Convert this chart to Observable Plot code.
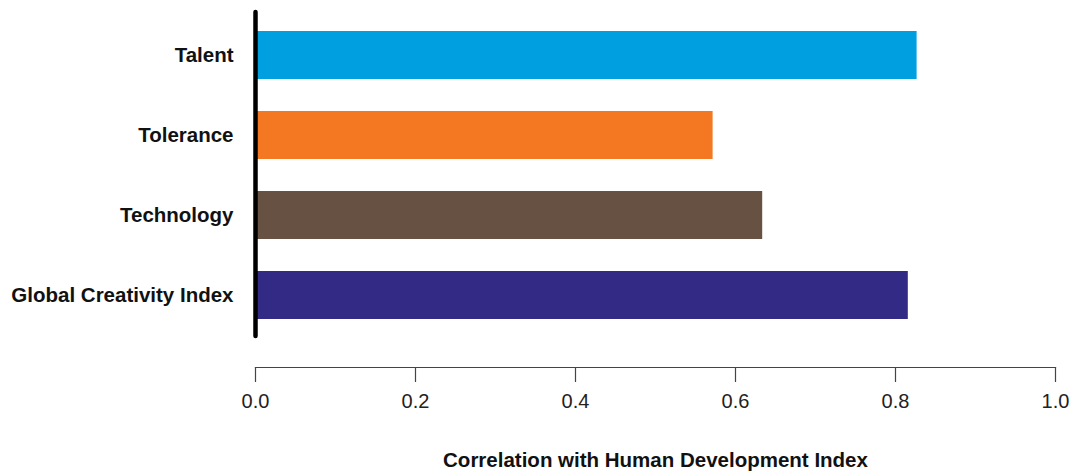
<!DOCTYPE html>
<html>
<head>
<meta charset="utf-8">
<script src="https://cdn.jsdelivr.net/npm/d3@7"></script>
<script src="https://cdn.jsdelivr.net/npm/@observablehq/plot@0.6"></script>
<style>
  html, body { margin: 0; padding: 0; background: #fff; }
  #chart svg { display: block; }
</style>
</head>
<body>
<div id="chart"></div>
<script>
const categories = ["Talent", "Tolerance", "Technology", "Global Creativity Index"];
const values = [0.827, 0.572, 0.634, 0.816];
const colors = ["#009fdf", "#f47721", "#675142", "#332a86"];
const xTicks = [0, 0.2, 0.4, 0.6, 0.8, 1.0];
const xLabel = "Correlation with Human Development Index";

const data = categories.map((c, i) => ({category: c, value: values[i], color: colors[i]}));

const chart = Plot.plot({
  width: 1076,
  height: 472,
  marginLeft: 255,
  marginRight: 21,
  marginTop: 12,
  marginBottom: 105,
  style: {fontFamily: "'Liberation Sans', Arial, sans-serif", background: "#fff"},
  x: {domain: [0, 1]},
  y: {domain: categories, range: [14, 335], paddingInner: 0.4, paddingOuter: 0.2},
  marks: [
    Plot.barX(data, {x: "value", y: "category", fill: "color"}),
    Plot.ruleX([0], {stroke: "#000", strokeWidth: 4.5, strokeLinecap: "round", insetBottom: 31}),
    Plot.frame({anchor: "bottom", stroke: "#444", strokeWidth: 1.2}),
    Plot.axisX({
      ticks: xTicks,
      tickFormat: d3.format(".1f"),
      tickSize: 15,
      tickPadding: 11,
      fontSize: 20,
      stroke: "#444",
      strokeWidth: 1.2,
      fill: "#222",
      label: null
    }),
    Plot.axisX({
      ticks: [],
      label: xLabel,
      labelAnchor: "center",
      labelArrow: "none",
      labelOffset: 99,
      fontSize: 20.5,
      fontWeight: "bold",
      fill: "#111"
    }),
    Plot.axisY({
      tickSize: 0,
      tickPadding: 22,
      fontSize: 20.5,
      fontWeight: "bold",
      fill: "#111",
      label: null
    })
  ]
});
document.getElementById("chart").append(chart);
</script>
</body>
</html>
